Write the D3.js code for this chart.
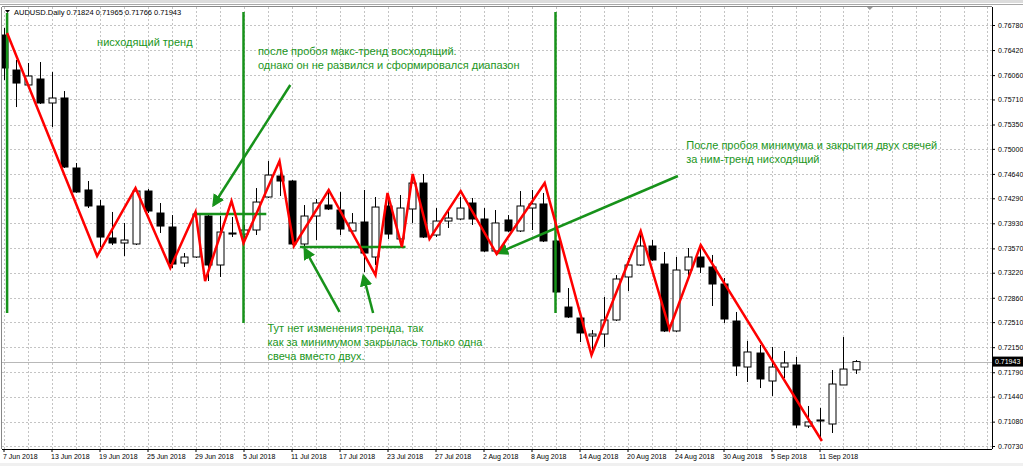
<!DOCTYPE html>
<html>
<head>
<meta charset="utf-8">
<script src="https://cdn.jsdelivr.net/npm/d3@7"></script>
<style>
  body { margin: 0; background: #fff; }
  svg { display: block; font-family: "Liberation Sans", Arial, sans-serif; }
  .axis text { font-size: 7px; fill: #000; }
  .axis path, .axis line { stroke: #000; }
  .note { font-family: "Liberation Sans", Arial, sans-serif; font-size: 11px; fill: #1c961c; }
</style>
</head>
<body>
<script>
// AUDUSD daily bars
let dates = ["7 Jun 2018","8 Jun 2018","11 Jun 2018","12 Jun 2018","13 Jun 2018","14 Jun 2018","15 Jun 2018","18 Jun 2018",
  "19 Jun 2018","20 Jun 2018","21 Jun 2018","22 Jun 2018","25 Jun 2018","26 Jun 2018","27 Jun 2018","28 Jun 2018",
  "29 Jun 2018","2 Jul 2018","3 Jul 2018","4 Jul 2018","5 Jul 2018","6 Jul 2018","9 Jul 2018","10 Jul 2018",
  "11 Jul 2018","12 Jul 2018","13 Jul 2018","16 Jul 2018","17 Jul 2018","18 Jul 2018","19 Jul 2018","20 Jul 2018",
  "23 Jul 2018","24 Jul 2018","25 Jul 2018","26 Jul 2018","27 Jul 2018","30 Jul 2018","31 Jul 2018","1 Aug 2018",
  "2 Aug 2018","3 Aug 2018","6 Aug 2018","7 Aug 2018","8 Aug 2018","9 Aug 2018","10 Aug 2018","13 Aug 2018",
  "14 Aug 2018","15 Aug 2018","16 Aug 2018","17 Aug 2018","20 Aug 2018","21 Aug 2018","22 Aug 2018","23 Aug 2018",
  "24 Aug 2018","27 Aug 2018","28 Aug 2018","29 Aug 2018","30 Aug 2018","31 Aug 2018","3 Sep 2018","4 Sep 2018",
  "5 Sep 2018","6 Sep 2018","7 Sep 2018","10 Sep 2018","11 Sep 2018","12 Sep 2018","13 Sep 2018","14 Sep 2018"];

let opens = [0.76636,0.76133,0.75918,0.76004,0.75659,0.75731,0.74725,0.74409,
  0.74179,0.73719,0.73647,0.73633,0.74394,0.74078,0.73877,0.73360,
  0.73446,0.74035,0.73331,0.73791,0.73776,0.73834,0.74308,0.74610,
  0.74538,0.73633,0.74035,0.74193,0.74121,0.73820,0.73949,0.73446,
  0.74179,0.73705,0.74136,0.74509,0.73762,0.73963,0.73992,0.74222,
  0.73992,0.73532,0.73978,0.73820,0.74150,0.74208,0.73676,0.72727,
  0.72569,0.72311,0.72339,0.72541,0.73159,0.73331,0.73604,0.73345,
  0.72383,0.73259,0.73446,0.73302,0.73058,0.72526,0.71865,0.72066,
  0.71664,0.71865,0.71894,0.71017,0.71089,0.71046,0.71607,0.71824];
let highs = [0.76737,0.76277,0.76234,0.76248,0.76104,0.75831,0.74797,0.74538,
  0.74265,0.74093,0.73935,0.74437,0.74423,0.74222,0.74049,0.73503,
  0.74093,0.74064,0.74035,0.74021,0.73906,0.74437,0.74825,0.74768,
  0.74552,0.74193,0.74279,0.74409,0.74380,0.74078,0.74409,0.74308,
  0.74294,0.74337,0.74639,0.74639,0.74150,0.74136,0.74308,0.74294,
  0.74150,0.74121,0.74049,0.74394,0.74409,0.74366,0.73690,0.73000,
  0.72584,0.72397,0.72871,0.73187,0.73432,0.73791,0.73690,0.73518,
  0.73446,0.73575,0.73575,0.73475,0.73144,0.72656,0.72239,0.72181,
  0.72153,0.72095,0.72009,0.71305,0.71276,0.71822,0.72296,0.71965];
let lows = [0.75989,0.75601,0.75889,0.75645,0.75314,0.74725,0.74366,0.74150,
  0.73590,0.73618,0.73460,0.73618,0.74078,0.73791,0.73288,0.73302,
  0.73432,0.73101,0.73159,0.73733,0.73705,0.73762,0.74294,0.74323,
  0.73618,0.73590,0.73690,0.74121,0.73762,0.73791,0.73230,0.73331,
  0.73705,0.73690,0.73935,0.73719,0.73733,0.73863,0.73978,0.73906,
  0.73518,0.73503,0.73805,0.73805,0.73834,0.73661,0.72929,0.72569,
  0.72224,0.72110,0.72153,0.72526,0.72957,0.73317,0.73388,0.72368,
  0.72368,0.73159,0.73216,0.72742,0.72498,0.71736,0.71650,0.71563,
  0.71449,0.71707,0.70989,0.70989,0.70845,0.70917,0.71607,0.71766];
let closes = [0.76162,0.75946,0.76047,0.75659,0.75731,0.74739,0.74380,0.74179,
  0.73733,0.73647,0.73690,0.74394,0.74107,0.73891,0.73345,0.73446,
  0.74064,0.73331,0.73805,0.73776,0.73834,0.74236,0.74624,0.74538,
  0.73633,0.74035,0.74222,0.74136,0.73848,0.73935,0.73503,0.74164,
  0.73776,0.74150,0.74509,0.73733,0.73963,0.74006,0.74150,0.73992,
  0.73532,0.73935,0.73820,0.74179,0.74208,0.73676,0.72943,0.72584,
  0.72354,0.72339,0.72541,0.73130,0.73331,0.73604,0.73403,0.72383,
  0.73259,0.73446,0.73302,0.73058,0.72555,0.71880,0.72081,0.71693,
  0.71865,0.71923,0.71032,0.71075,0.71104,0.71621,0.71836,0.71943];

let priceTicks = [0.76780,0.76420,0.76060,0.75710,0.75350,0.75000,0.74640,0.74290,0.73930,
  0.73570,0.73220,0.72860,0.72510,0.72150,0.71790,0.71440,0.71080,0.70730];
let dateTickIdx = [0,4,8,12,16,20,24,28,32,36,40,44,48,52,56,60,64,68];

// hand-drawn red zigzag (bar index, price)
let zigIdx = [0.3,7.8,11.0,13.9,16.0,16.8,19.0,20.0,23.0,24.2,27.1,31.0,32.0,33.2,34.1,35.5,38.1,41.1,45.1,49.0,53.1,55.5,58.1,68.2];
let zigPrice = [0.76665,0.73460,0.74437,0.73288,0.74093,0.73101,0.74251,0.73647,0.74825,0.73604,0.74409,0.73187,
  0.74366,0.73590,0.74639,0.73705,0.74394,0.73489,0.74509,0.72038,0.73820,0.72411,0.73618,0.70802];

// green helper lines: [idx1, price1, idx2, price2, arrow]
let greenLines = [
  [0.3, 0.76952, 0.3, 0.72641, false],
  [20.0, 0.76967, 20.0, 0.72498, false],
  [46.0, 0.76967, 46.0, 0.72641, false],
  [16.0, 0.74064, 21.9, 0.74064, false],
  [24.7, 0.73590, 33.5, 0.73590, false],
  [23.9, 0.75918, 17.5, 0.74193, true],
  [28.0, 0.72656, 25.1, 0.73561, true],
  [30.8, 0.72641, 30.0, 0.73173, true],
  [56.2, 0.74610, 41.2, 0.73503, true]
];

let noteText = ["нисходящий тренд",
  "после пробоя макс-тренд восходящий.",
  "однако он не развился и сформировался диапазон",
  "После пробоя минимума и закрытия двух свечей",
  "за ним-тренд нисходящий",
  "Тут нет изменения тренда, так",
  "как за минимумом закрылась только одна",
  "свеча вместо двух."];
let noteIdx = [7.8, 21.2, 21.2, 56.9, 56.9, 22.0, 22.0, 22.0];
let notePrice = [0.76478, 0.76352, 0.76151, 0.74998, 0.74797, 0.72368, 0.72167, 0.71966];

let symbolTitle = "AUDUSD.Daily";
let lastPrice = 0.71943;

let svgWidth = 1023, svgHeight = 466;
let plotLeft = 2, plotRight = 992, plotTop = 7, plotBottom = 449;

let svg = d3.select("body").append("svg")
  .attr("width", svgWidth).attr("height", svgHeight);

// frame
svg.append("rect").attr("x", 0).attr("y", 0).attr("width", svgWidth).attr("height", 3).attr("fill", "#dcdcdc");
svg.append("line").attr("x1", 0).attr("x2", svgWidth).attr("y1", 4.5).attr("y2", 4.5).attr("stroke", "#a8a8a8");
svg.append("rect").attr("x", 0).attr("y", 463).attr("width", svgWidth).attr("height", 3).attr("fill", "#f0f0f0");

let x = d3.scaleLinear().domain([0, 68]).range([3.5, 819.5]);
let y = d3.scaleLinear().domain([0.70730, 0.76780]).range([446, 25]);

let defs = svg.append("defs");
defs.append("clipPath").attr("id", "plot")
  .append("rect").attr("x", plotLeft).attr("y", plotTop)
  .attr("width", plotRight - plotLeft).attr("height", plotBottom - plotTop);

let plot = svg.append("g").attr("clip-path", "url(#plot)");

// grid
plot.selectAll(".vgrid").data(d3.range(0, 84, 2)).enter().append("line")
  .attr("x1", d => Math.round(x(d)) + 0.5).attr("x2", d => Math.round(x(d)) + 0.5)
  .attr("y1", plotTop).attr("y2", plotBottom)
  .attr("stroke", "#c4c4c4").attr("stroke-dasharray", "2,2");
plot.selectAll(".hgrid").data(priceTicks).enter().append("line")
  .attr("x1", plotLeft).attr("x2", plotRight)
  .attr("y1", d => Math.round(y(d)) + 0.5).attr("y2", d => Math.round(y(d)) + 0.5)
  .attr("stroke", "#c4c4c4").attr("stroke-dasharray", "2,2");

// last price line
plot.append("line").attr("x1", plotLeft).attr("x2", plotRight)
  .attr("y1", Math.round(y(lastPrice)) + 0.5).attr("y2", Math.round(y(lastPrice)) + 0.5)
  .attr("stroke", "#b8b8b8");

// candles
let bars = dates.map((d, i) => ({i: i, o: opens[i], h: highs[i], l: lows[i], c: closes[i]}));
let candle = plot.selectAll(".candle").data(bars).enter().append("g");
candle.append("line")
  .attr("x1", d => Math.round(x(d.i)) + 0.5).attr("x2", d => Math.round(x(d.i)) + 0.5)
  .attr("y1", d => y(d.h)).attr("y2", d => y(d.l))
  .attr("stroke", "#000");
candle.append("rect")
  .attr("x", d => Math.round(x(d.i)) - 3)
  .attr("y", d => y(Math.max(d.o, d.c)))
  .attr("width", 7)
  .attr("height", d => Math.max(1, Math.abs(y(d.o) - y(d.c))))
  .attr("fill", d => d.c >= d.o ? "#fff" : "#000")
  .attr("stroke", "#000").attr("stroke-width", 1);

// green lines
let green = "#17921a";
defs.append("marker").attr("id", "arrow")
  .attr("viewBox", "0 0 10 10").attr("refX", 8).attr("refY", 5)
  .attr("markerWidth", 5).attr("markerHeight", 5).attr("orient", "auto")
  .append("path").attr("d", "M0,0 L10,5 L0,10 z").attr("fill", green);

plot.selectAll(".gl").data(greenLines).enter().append("line")
  .attr("x1", d => x(d[0])).attr("y1", d => y(d[1]))
  .attr("x2", d => x(d[2])).attr("y2", d => y(d[3]))
  .attr("stroke", green).attr("stroke-width", 2.5)
  .attr("marker-end", d => d[4] ? "url(#arrow)" : null);

// red zigzag
let zig = zigIdx.map((v, i) => [v, zigPrice[i]]);
plot.append("path").datum(zig)
  .attr("d", d3.line().x(d => x(d[0])).y(d => y(d[1])))
  .attr("fill", "none").attr("stroke", "#ff0000").attr("stroke-width", 2.5)
  .attr("stroke-linejoin", "miter");

// notes
plot.selectAll(".note").data(noteText).enter().append("text")
  .attr("class", "note")
  .attr("x", (d, i) => x(noteIdx[i]))
  .attr("y", (d, i) => y(notePrice[i]))
  .text(d => d);

// axes
let rightAxis = d3.axisRight(y).tickValues(priceTicks).tickSize(3).tickSizeOuter(0)
  .tickFormat(d3.format(".5f"));
let ry = svg.append("g").attr("class", "axis")
  .attr("transform", `translate(${plotRight}, 0)`)
  .call(rightAxis);
ry.select(".domain").attr("d", `M0.5,${plotTop}V${plotBottom}`);

let bottomAxis = d3.axisBottom(x).tickValues(dateTickIdx).tickSize(3).tickSizeOuter(0)
  .tickFormat(i => dates[i]);
let bx = svg.append("g").attr("class", "axis")
  .attr("transform", `translate(0, ${plotBottom})`)
  .call(bottomAxis);
bx.select(".domain").attr("d", `M${plotLeft},0.5H${plotRight}`);
bx.selectAll(".tick text").attr("text-anchor", "start").attr("x", -1).attr("y", 5).attr("dy", "0.71em");

// left / top border
svg.append("line").attr("x1", 1.5).attr("x2", 1.5).attr("y1", plotTop).attr("y2", plotBottom).attr("stroke", "#888");
svg.append("line").attr("x1", plotLeft).attr("x2", plotRight).attr("y1", plotTop - 0.5).attr("y2", plotTop - 0.5).attr("stroke", "#888");

// last price tag
let ly = y(lastPrice);
svg.append("rect").attr("x", plotRight + 1).attr("y", ly - 5).attr("width", 30).attr("height", 10).attr("fill", "#000");
svg.append("text").attr("x", plotRight + 3).attr("y", ly + 2.5)
  .attr("font-size", "7px").attr("fill", "#fff").text(d3.format(".5f")(lastPrice));

// header
let f5 = d3.format(".5f");
svg.append("path").attr("d", "M5,10 L10,10 L7.5,13 z").attr("fill", "#000");
svg.append("text").attr("x", 14).attr("y", 15).attr("font-size", "7.5px").attr("fill", "#000")
  .text(`${symbolTitle}  ${f5(opens[71])} ${f5(highs[71])} ${f5(lows[71])} ${f5(closes[71])}`);

// shift marker
let sx = x(72.2);
svg.append("path").attr("d", `M${sx - 3},7 L${sx + 3},7 L${sx},10 z`).attr("fill", "#999");
</script>
</body>
</html>
